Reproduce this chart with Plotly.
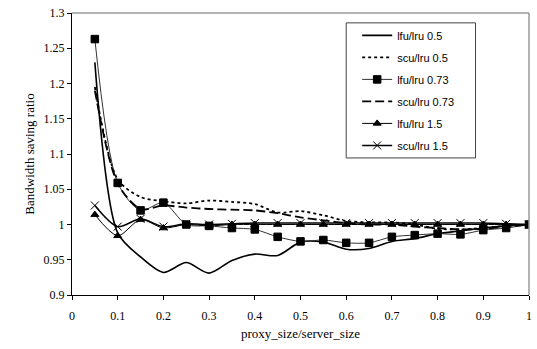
import plotly.graph_objects as go

x = [0.05, 0.1, 0.15, 0.2, 0.25, 0.3, 0.35, 0.4, 0.45, 0.5, 0.55, 0.6, 0.65, 0.7, 0.75, 0.8, 0.85, 0.9, 0.95, 1.0]

lfu_lru_05 = [1.23, 0.988, 0.954, 0.932, 0.946, 0.931, 0.949, 0.958, 0.956, 0.975, 0.975, 0.965, 0.966, 0.976, 0.980, 0.987, 0.991, 0.995, 0.998, 1.0]
scu_lru_05 = [1.195, 1.064, 1.039, 1.033, 1.030, 1.034, 1.032, 1.029, 1.017, 1.019, 1.013, 1.005, 1.003, 1.003, 1.0, 0.994, 0.993, 0.995, 0.998, 1.0]
lfu_lru_073 = [1.263, 1.059, 1.020, 1.031, 1.000, 0.998, 0.995, 0.993, 0.9825, 0.976, 0.978, 0.974, 0.974, 0.9825, 0.985, 0.987, 0.986, 0.992, 0.995, 1.0]
scu_lru_073 = [1.19, 1.058, 1.022, 1.027, 1.024, 1.022, 1.021, 1.020, 1.016, 1.010, 1.006, 1.002, 1.0, 1.0, 0.997, 0.995, 0.993, 0.994, 0.997, 1.0]
lfu_lru_15 = [1.014, 0.984, 1.007, 0.995, 1.0, 0.998, 1.0, 1.0, 1.0, 1.0, 1.0, 1.0, 1.0, 1.0, 1.0, 1.0, 1.0, 1.0, 1.0, 1.0]
scu_lru_15 = [1.027, 0.997, 1.008, 0.997, 1.001, 1.0, 1.001, 1.002, 1.002, 1.002, 1.002, 1.002, 1.002, 1.002, 1.002, 1.002, 1.002, 1.002, 1.001, 1.0]

x_ticks = [0, 0.1, 0.2, 0.3, 0.4, 0.5, 0.6, 0.7, 0.8, 0.9, 1]
y_ticks = [0.9, 0.95, 1, 1.05, 1.1, 1.15, 1.2, 1.25, 1.3]

fig = go.Figure()

def add(name, y, width, dash="solid", symbol=None, msize=7, color="black"):
    mode = "lines+markers" if symbol else "lines"
    marker = dict(symbol=symbol, size=msize, color="black",
                  line=dict(color="black", width=1)) if symbol else None
    fig.add_trace(go.Scatter(x=x, y=y, name=name, mode=mode, legendgroup=name,
                             line=dict(color=color, width=width, dash=dash, shape="spline", smoothing=0.8),
                             marker=marker))

add("lfu/lru 0.5", lfu_lru_05, 1.6)
add("scu/lru 0.5", scu_lru_05, 1.8, dash="3px,3px")
add("lfu/lru 0.73", lfu_lru_073, 1.0, symbol="square", msize=7.5, color="#333333")
add("scu/lru 0.73", scu_lru_073, 1.8, dash="9px,4px")
add("lfu/lru 1.5", lfu_lru_15, 1.0, symbol="triangle-up", msize=7)
add("scu/lru 1.5", scu_lru_15, 1.5, symbol="x-thin-open", msize=8)

axis_font = dict(family="Liberation Serif", size=12, color="black")

fig.update_layout(
    width=537, height=349,
    margin=dict(l=72, r=5, t=13, b=54),
    paper_bgcolor="white", plot_bgcolor="white",
    xaxis=dict(range=[0, 1], tickvals=x_ticks, ticktext=[f"{v:g}" for v in x_ticks],
               showgrid=False, zeroline=False, showline=True, linecolor="black", linewidth=1,
               ticks="outside", ticklen=4, tickcolor="black", tickfont=axis_font,
               ticklabelstandoff=6,
               title=dict(text="proxy_size/server_size", font=dict(family="Liberation Serif", size=13, color="black"), standoff=6)),
    yaxis=dict(range=[0.9, 1.3], tickvals=y_ticks, ticktext=[f"{v:g}" for v in y_ticks],
               showgrid=False, zeroline=False, showline=True, linecolor="black", linewidth=1,
               ticks="outside", ticklen=4, tickcolor="black", tickfont=axis_font,
               title=dict(text="Bandwidth saving ratio", font=dict(family="Liberation Serif", size=13, color="black"), standoff=6)),
    legend=dict(x=0.624, y=0.972, xanchor="left", yanchor="top",
                bgcolor="rgba(0,0,0,0)", borderwidth=0,
                font=dict(family="Liberation Sans", size=11, color="black"),
                tracegroupgap=3),
    showlegend=True,
)

# legend frame
fig.add_shape(type="rect", xref="paper", yref="paper", x0=0.6, x1=0.883, y0=0.486, y1=0.965,
              line=dict(color="#444444", width=1), fillcolor="white", layer="above")

fig.add_shape(type="line", xref="paper", yref="paper", x0=0, x1=1, y0=1, y1=1,
              line=dict(color="#999999", width=1.5))
fig.add_shape(type="line", xref="paper", yref="paper", x0=1, x1=1, y0=0, y1=1,
              line=dict(color="#999999", width=1.5))

fig.write_html("out.html")
